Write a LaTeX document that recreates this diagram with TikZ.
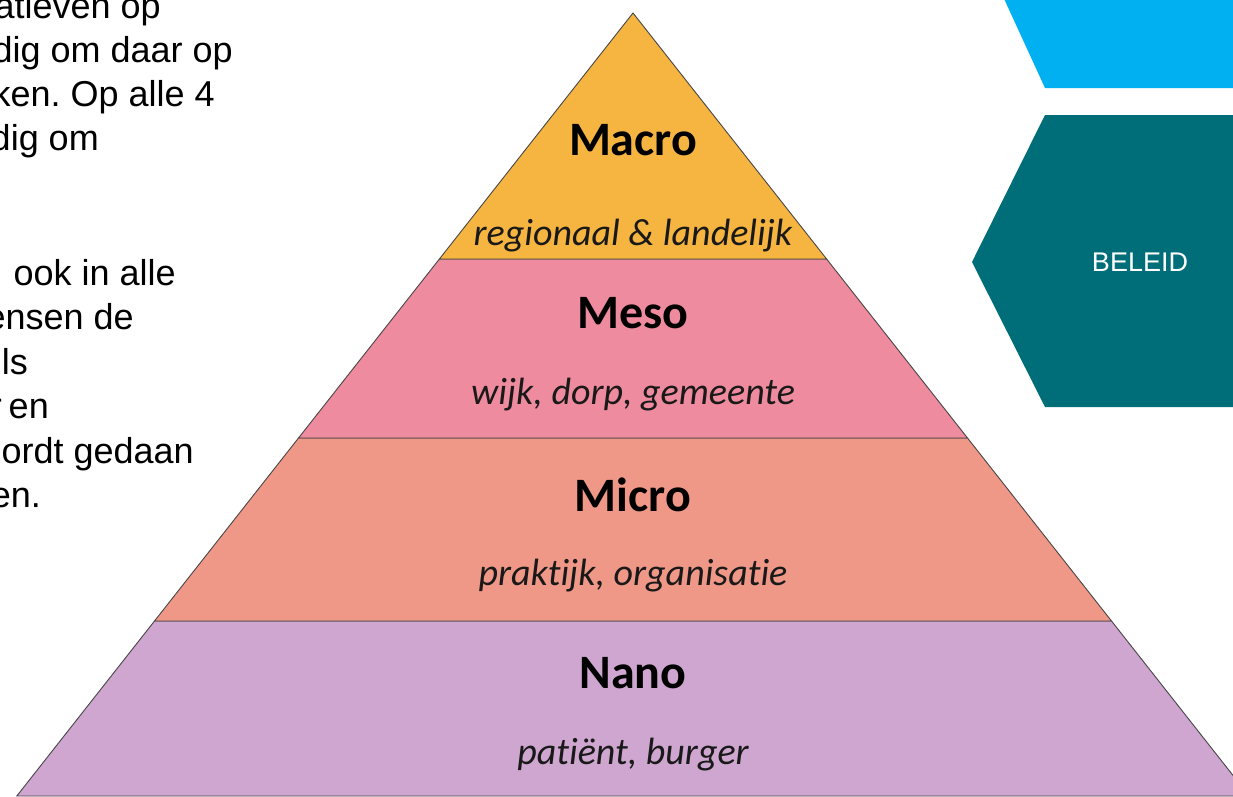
\documentclass[tikz,border=0pt]{standalone}
\usepackage{fontspec}
\setmainfont{Liberation Sans}
\newfontfamily\carlito[Ligatures=NoCommon]{Carlito}
\definecolor{cmacro}{RGB}{246,181,64}
\definecolor{cmeso}{RGB}{239,139,158}
\definecolor{cmicro}{RGB}{240,152,135}
\definecolor{cnano}{RGB}{206,166,207}
\definecolor{cblue}{RGB}{0,176,240}
\definecolor{cteal}{RGB}{0,110,120}
\definecolor{cedge}{RGB}{70,70,70}
\frenchspacing
\tikzset{
  band/.style={draw=cedge, line width=0.9pt, line join=miter},
  ttl/.style={inner sep=0, anchor=base, font=\carlito\bfseries\fontsize{48}{56}\selectfont},
  sub/.style={inner sep=0, anchor=base, font=\carlito\itshape\fontsize{38}{46}\selectfont, text=black!90},
  para/.style={inner sep=0, anchor=base east, font=\fontsize{36}{44}\selectfont},
}
\begin{document}
\begin{tikzpicture}[x=1pt, y=-1pt]
\useasboundingbox (0,0) rectangle (1233,796);
\clip (0,0) rectangle (1233,796);
% pyramid
\coordinate (apex) at (633,13);
\coordinate (l1) at (439.4,259); \coordinate (r1) at (826.6,259);
\coordinate (l2) at (298.5,438); \coordinate (r2) at (967.5,438);
\coordinate (l3) at (154.5,621); \coordinate (r3) at (1111.5,621);
\coordinate (l4) at (16.8,796);  \coordinate (r4) at (1249.2,796);
\draw[band, fill=cnano]  (l3) -- (r3) -- (r4) -- (l4) -- cycle;
\draw[band, fill=cmicro] (l2) -- (r2) -- (r3) -- (l3) -- cycle;
\draw[band, fill=cmeso]  (l1) -- (r1) -- (r2) -- (l2) -- cycle;
\draw[band, fill=cmacro] (apex) -- (r1) -- (l1) -- cycle;
% labels
\node[ttl] (macro) at (633,155) {Macro};
\node[sub] (macrosub) at (633,245) {regionaal \& landelijk};
\node[ttl] (meso) at (633,328) {Meso};
\node[sub] (mesosub) at (633,404) {wijk, dorp, gemeente};
\node[ttl] (micro) at (633,511) {Micro};
\node[sub] (microsub) at (633,585) {praktijk, organisatie};
\node[ttl] (nano) at (633,688) {Nano};
\node[sub] (nanosub) at (633,764) {patiënt, burger};
% right shapes
\fill[cblue] (1000,-10) -- (1045,88) -- (1240,88) -- (1240,-10) -- cycle;
\fill[cteal] (1045,115) -- (972,262) -- (1045,407) -- (1240,407) -- (1240,115) -- cycle;
\node[inner sep=0, anchor=base, text=white, font=\fontsize{27}{32}\selectfont] (beleid) at (1140,271) {BELEID};
% left paragraph fragments
\node[para] (p1) at (161,18) {atieven op};
\node[para] (p2) at (233,62) {dig om daar op};
\node[para] (p3) at (215,106) {ken. Op alle 4};
\node[para] (p4) at (99,150) {dig om};
\node[para] (p5) at (176,285) {ook in alle};
\node[para] (p6) at (134,329.5) {ensen de};
\node[para] (p7) at (28,374) {ls};
\node[para] (p8) at (49,418.5) {r\hspace{-3pt} en};
\node[para] (p9) at (194,463) {ordt gedaan};
\node[para] (p10) at (41,507.5) {en.};
\end{tikzpicture}
\end{document}
